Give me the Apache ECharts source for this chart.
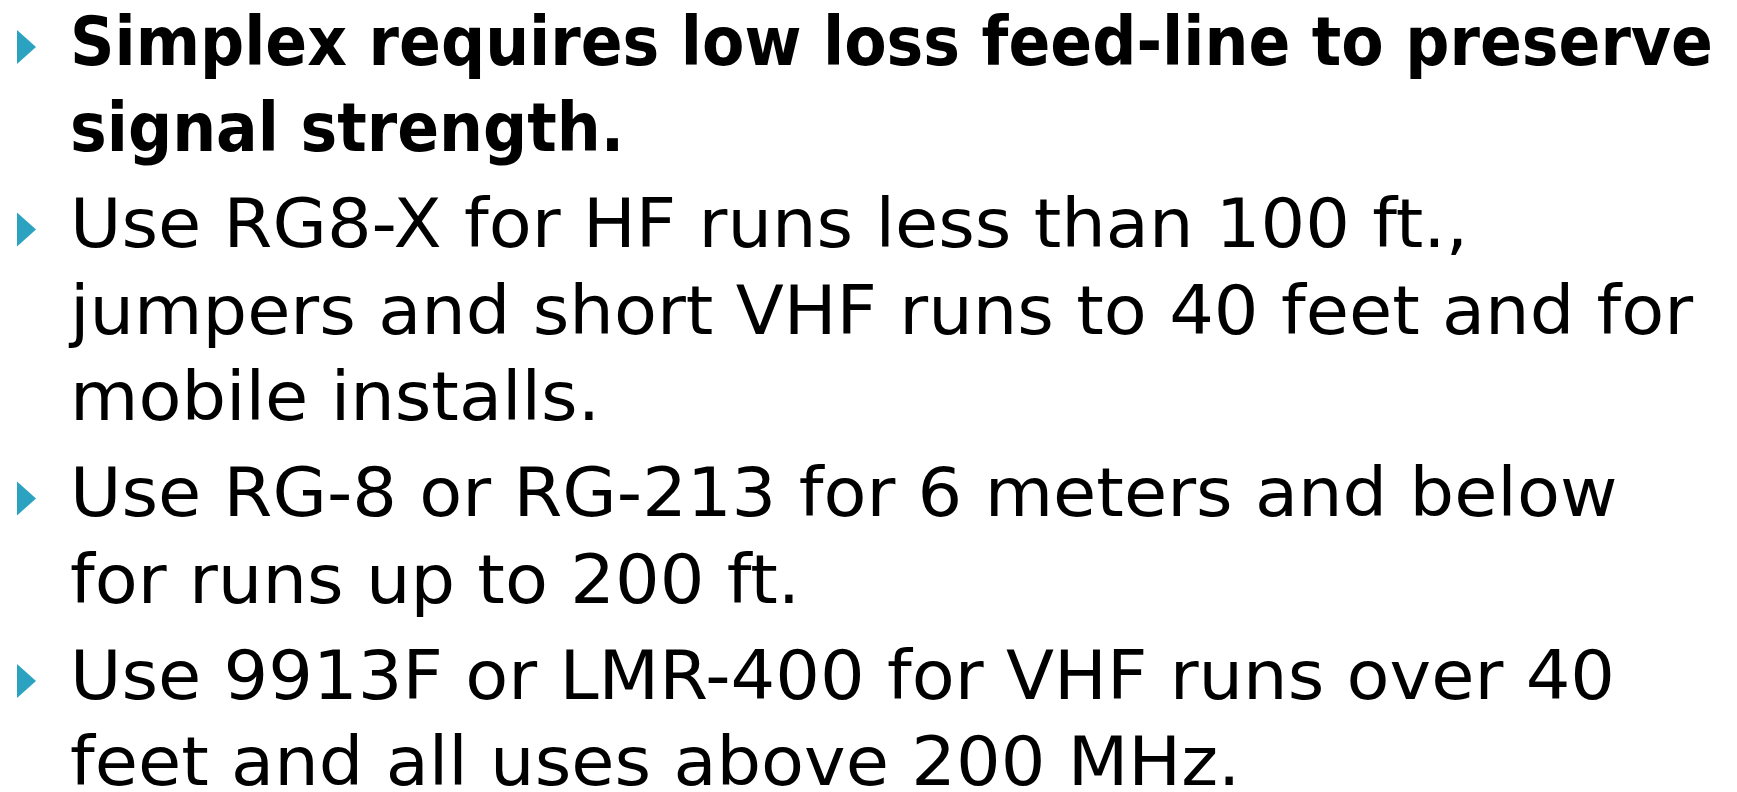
<!DOCTYPE html>
<html>
<head>
<meta charset="utf-8">
<script src="https://cdn.jsdelivr.net/npm/echarts@6/dist/echarts.min.js"></script>
<style>
html,body{margin:0;padding:0;background:#fff;}
#main{width:1737px;height:792px;}
</style>
</head>
<body>
<div id="main"></div>
<script>
// Slide content: one array of wrapped lines per bullet
const bullet1 = ["Simplex requires low loss feed-line to preserve", "signal strength."];
const bullet2 = ["Use RG8-X for HF runs less than 100 ft.,", "jumpers and short VHF runs to 40 feet and for", "mobile installs."];
const bullet3 = ["Use RG-8 or RG-213 for 6 meters and below", "for runs up to 200 ft."];
const bullet4 = ["Use 9913F or LMR-400 for VHF runs over 40", "feet and all uses above 200 MHz."];
const boldFlags = [true, false, false, false];

const bullets = [bullet1, bullet2, bullet3, bullet4];

const FONT = '"DejaVu Sans", sans-serif';
const FS = 68;
const textX = 70;
const firstBaseline = 67;
const lineGap = 86.5;
const paraGap = 9.5;
const baseOffset = 14;

// horizontal scale so that glyph widths match the slide's font
const cv = document.createElement('canvas').getContext('2d');
function w(str, bold) { cv.font = (bold ? 'bold ' : '') + FS + 'px ' + FONT; return cv.measureText(str).width; }
const scaleBold = 1643 / w(bullet1[0], true);
const scaleReg = 1398 / w(bullet2[0], false);

const elements = [];
let baseline = firstBaseline;
bullets.forEach(function (lines, bi) {
  const bold = boldFlags[bi];
  if (bi > 0) baseline += paraGap;
  // bullet triangle
  elements.push({
    type: 'polygon',
    shape: { points: [[17, baseline - 37], [36, baseline - 20], [17, baseline - 3]] },
    style: { fill: '#2BA3C0' }
  });
  lines.forEach(function (ln, li) {
    if (li > 0) baseline += lineGap;
    elements.push({
      type: 'text',
      x: textX,
      y: baseline + baseOffset,
      scaleX: bold ? scaleBold : scaleReg,
      originX: 0,
      style: {
        text: ln,
        fill: '#000',
        font: (bold ? 'bold ' : '') + FS + 'px ' + FONT,
        textAlign: 'left',
        textVerticalAlign: 'bottom'
      }
    });
  });
  baseline += lineGap;
});

const chart = echarts.init(document.getElementById('main'));
chart.setOption({ backgroundColor: '#fff', animation: false, graphic: { elements: elements } });
</script>
</body>
</html>
